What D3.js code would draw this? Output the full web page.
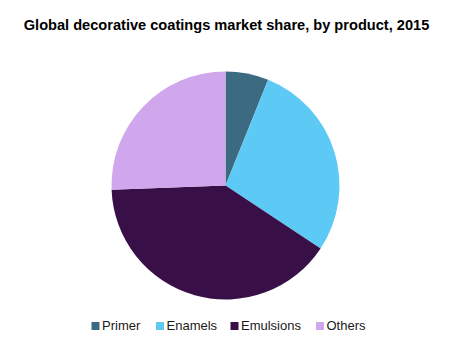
<!DOCTYPE html>
<meta charset="utf-8">
<script src="https://d3js.org/d3.v7.min.js"></script>
<style>
  body { margin: 0; background: #fff; }
  text { font-family: "Liberation Sans", Arial, sans-serif; }
</style>
<div class="canvas"></div>
<script>
    const width = 451
    const height = 352

    const categories = ["Primer", "Enamels", "Emulsions", "Others"]
    const shares = [6.1, 28.2, 40.1, 25.6]
    const colors = ["#3c6a80", "#5dc9f5", "#390f48", "#d0a6ec"]

    const svg = d3.select(".canvas")
                .append("svg")
                .attr("width", width)
                .attr("height", height)

    svg.append("text")
        .attr("x", 226.5)
        .attr("y", 30)
        .attr("text-anchor", "middle")
        .style("font-size", "14.6px")
        .style("font-weight", "bold")
        .text("Global decorative coatings market share, by product, 2015")

    const data = categories.map((c, i) => ({name: c, value: shares[i]}))

    const pie = d3.pie().sort(null).value(d => d.value)
    const arc = d3.arc().innerRadius(0).outerRadius(114)

    const graph = svg.append("g")
                    .attr("transform", "translate(225.5,185.5)")

    graph.selectAll("path")
        .data(pie(data))
        .enter()
        .append("path")
        .attr("d", arc)
        .attr("fill", (d, i) => colors[i])

    // legend
    const legendX = [91.5, 156, 230.5, 316]
    const legend = svg.append("g")
    const item = legend.selectAll("g")
        .data(data)
        .enter()
        .append("g")
        .attr("transform", (d, i) => `translate(${legendX[i]},330)`)

    item.append("rect")
        .attr("x", 0)
        .attr("y", -8)
        .attr("width", 8)
        .attr("height", 8)
        .attr("fill", (d, i) => colors[i])

    item.append("text")
        .attr("x", 10.5)
        .attr("y", 0)
        .style("font-size", "13px")
        .attr("fill", "#1a1a1a")
        .text(d => d.name)
</script>
